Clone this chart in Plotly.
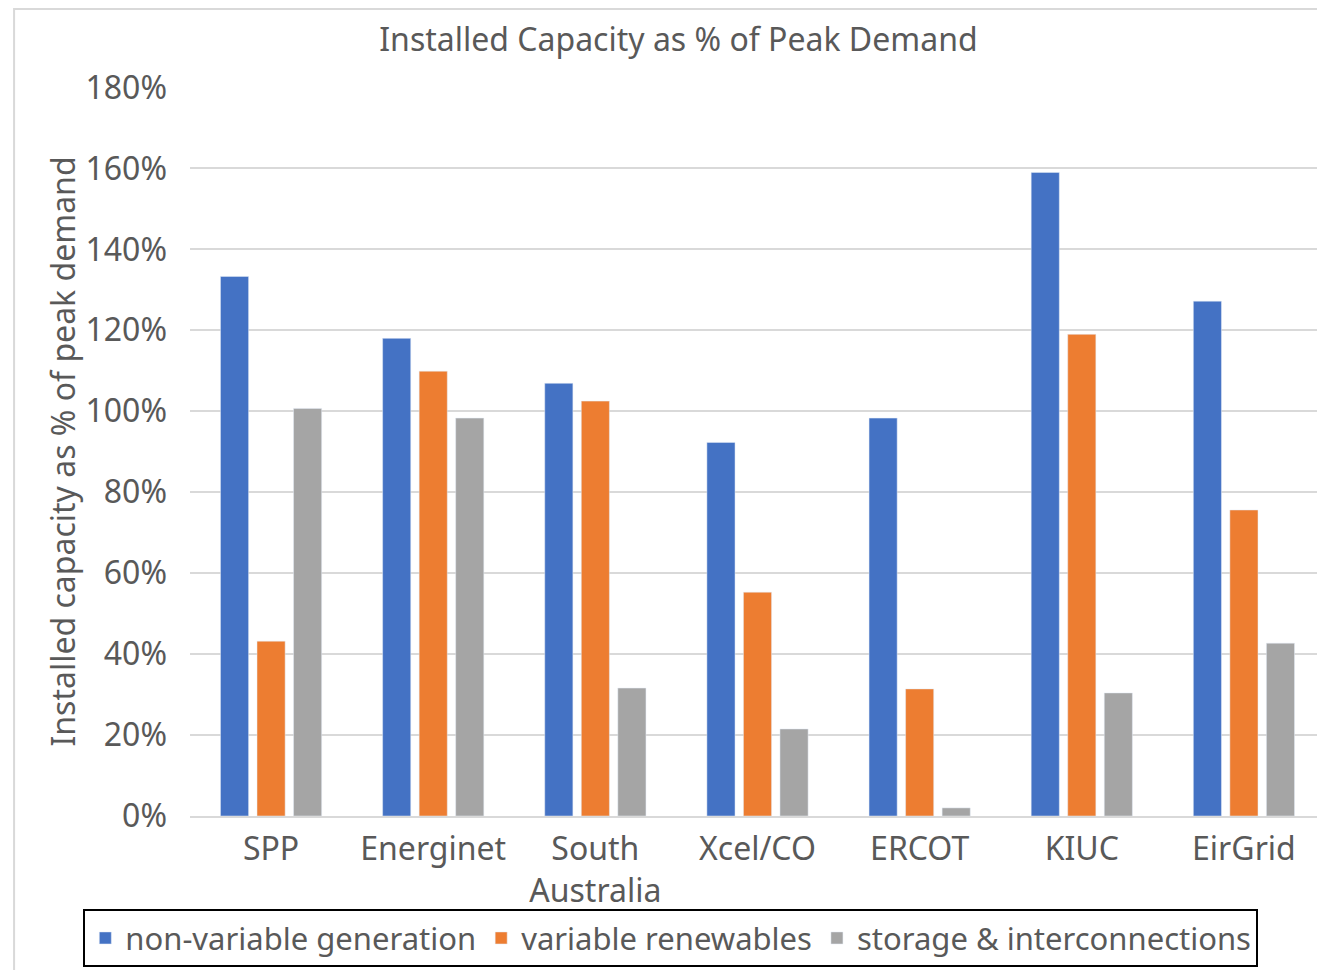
import plotly.graph_objects as go

categories = ["SPP", "Energinet", "South<br>Australia", "Xcel/CO", "ERCOT", "KIUC", "EirGrid"]
non_variable = [1.333, 1.18, 1.069, 0.923, 0.983, 1.59, 1.272]
variable_ren = [0.432, 1.099, 1.025, 0.553, 0.314, 1.19, 0.756]
storage_inter = [1.007, 0.983, 0.316, 0.215, 0.02, 0.304, 0.427]

FONT = "Noto Sans"
GREY_TXT = "#595959"

fig = go.Figure()
fig.add_trace(go.Bar(x=categories, y=non_variable, name="non-variable generation", marker_color="#4472C4"))
fig.add_trace(go.Bar(x=categories, y=variable_ren, name="variable renewables", marker_color="#ED7D31"))
fig.add_trace(go.Bar(x=categories, y=storage_inter, name="storage & interconnections", marker_color="#A5A5A5"))

# borde exterior del gráfico (gris claro)
fig.add_shape(type="rect", xref="paper", yref="paper", x0=-0.155, x1=1.2, y0=-0.3, y1=1.107,
              line=dict(color="#D9D9D9", width=2), layer="below")

fig.update_layout(
    width=1325, height=970,
    paper_bgcolor="white", plot_bgcolor="white",
    font=dict(family=FONT, color=GREY_TXT, size=32),
    title=dict(text="Installed Capacity as % of Peak Demand", x=0.506, xanchor="center", y=0.967, yanchor="middle",
               font=dict(size=32, color=GREY_TXT)),
    margin=dict(l=182, r=8, t=79, b=162, autoexpand=False),
    barmode="group", bargap=0.324, bargroupgap=0.23,
    xaxis=dict(showline=True, linecolor="#D9D9D9", linewidth=2, ticks="", tickfont=dict(size=32),
               ticklabelstandoff=4),
    yaxis=dict(range=[0, 1.801], dtick=0.2, tickformat=".0%", gridcolor="#D9D9D9", gridwidth=1.5,
               zeroline=False, tickfont=dict(size=32), ticklabelstandoff=22,
               title=dict(text="Installed capacity as % of peak demand", font=dict(size=32), standoff=0)),
    showlegend=True,
    legend=dict(orientation="h", x=-0.094, xanchor="left", y=-0.128, yanchor="top",
                bordercolor="black", borderwidth=2, font=dict(size=31), itemwidth=30,
                tracegroupgap=0),
)

fig.write_html("out.html")
